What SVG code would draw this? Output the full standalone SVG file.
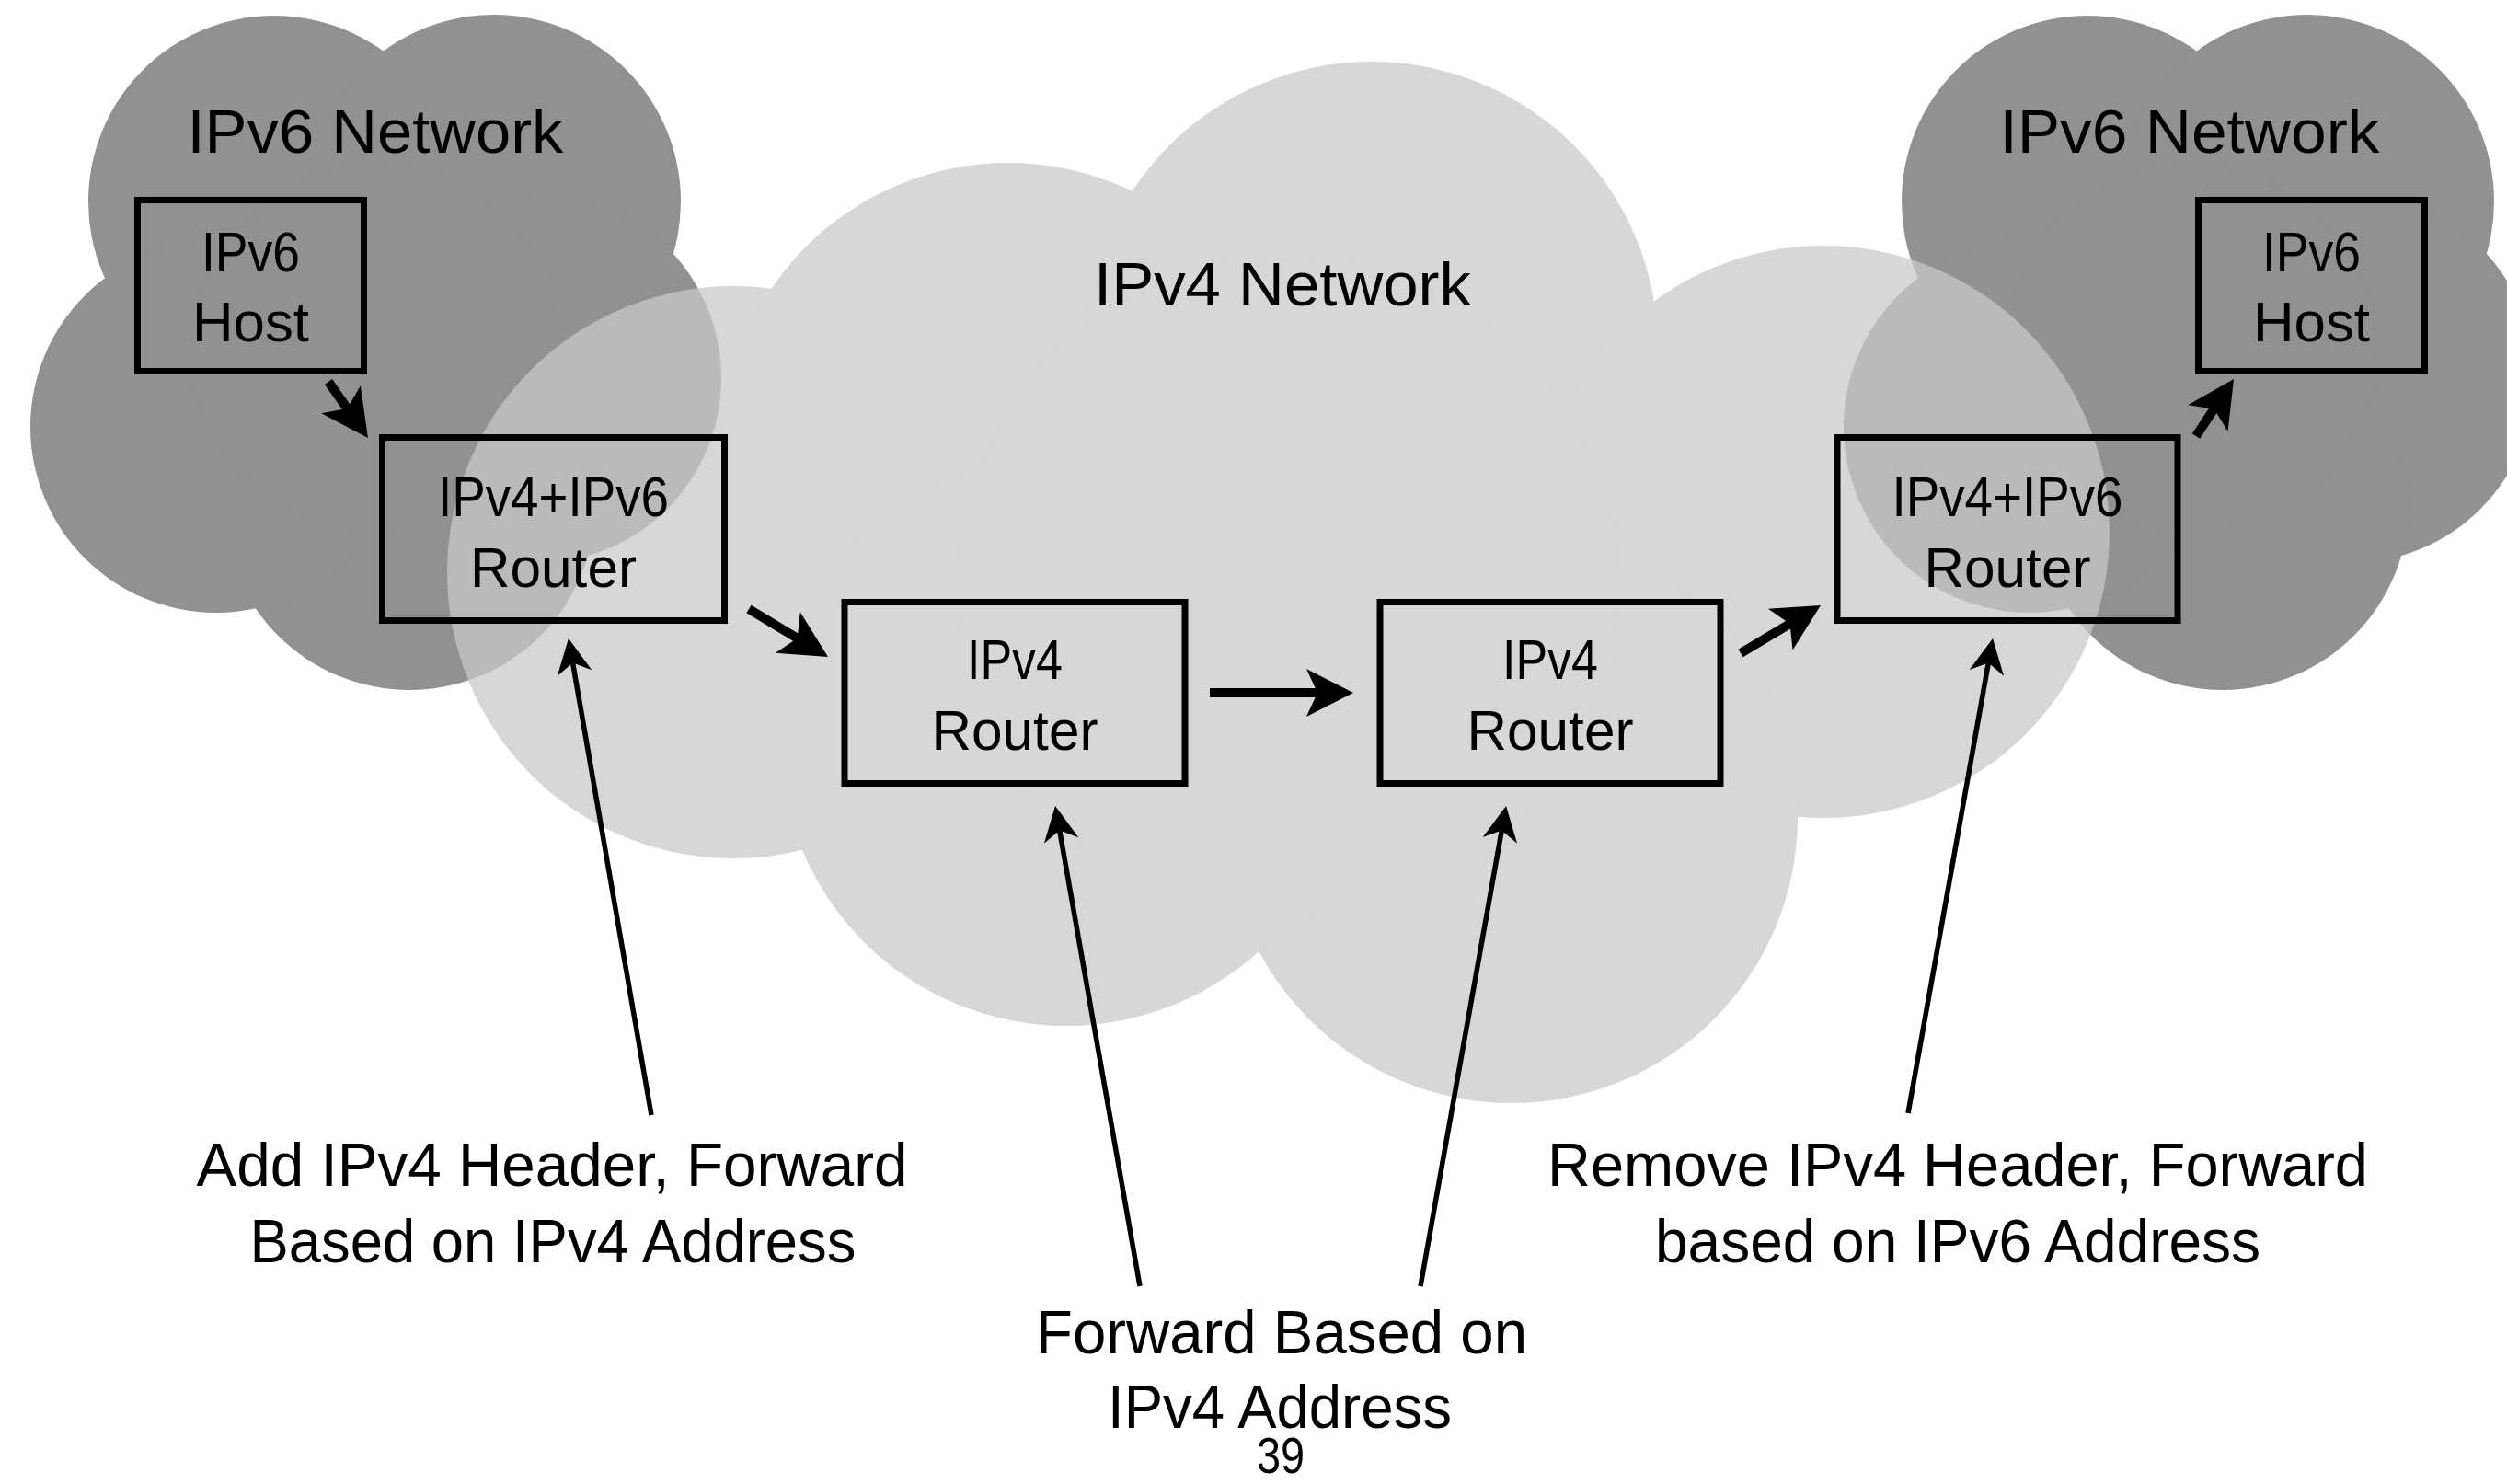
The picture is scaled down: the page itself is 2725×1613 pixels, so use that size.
<svg xmlns="http://www.w3.org/2000/svg" width="2725" height="1613" viewBox="0 0 2725 1613">
  <style>
    .lbl { font-family: "Liberation Sans", Arial, sans-serif; fill: #000; text-anchor: middle; }
    .net { font-size: 67px; }
    .box { font-size: 61px; }
    .note { font-size: 67px; }
    .page { font-size: 56px; }
    .node rect { fill: none; stroke: #000; stroke-width: 7; }
    .thick { fill: none; stroke: #000; stroke-width: 10; stroke-linecap: butt; marker-end: url(#headThick); }
    .thin { fill: none; stroke: #000; stroke-width: 5.5; stroke-linecap: butt; marker-end: url(#headThin); }
  </style>
  <defs>
    <!-- five-lobed cloud used for both IPv6 networks -->
    <g id="v6cloud">
      <circle cx="298" cy="219" r="202"/>
      <circle cx="537" cy="219" r="203"/>
      <circle cx="583" cy="411" r="201"/>
      <circle cx="445" cy="548" r="202"/>
      <circle cx="235" cy="464" r="202"/>
      <circle cx="410" cy="380" r="200"/>
    </g>
    <!-- concave arrowheads; origin sits where the shaft ends -->
    <marker id="headThick" markerUnits="userSpaceOnUse" orient="auto" refX="0" refY="0" markerWidth="80" markerHeight="80" overflow="visible">
      <path d="M39,0 L-12,-26 L0,0 L-12,26 Z" fill="#000"/>
    </marker>
    <marker id="headThin" markerUnits="userSpaceOnUse" orient="auto" refX="0" refY="0" markerWidth="60" markerHeight="60" overflow="visible">
      <path d="M27,0 L-11,-19 L0,0 L-11,19 Z" fill="#000"/>
    </marker>
  </defs>

  <rect width="2725" height="1613" fill="#fff"/>

  <!-- IPv6 networks -->
  <g id="ipv6-network-left">
    <use href="#v6cloud" fill="#919191"/>
    <text class="lbl net" x="408" y="166" textLength="409" lengthAdjust="spacingAndGlyphs">IPv6 Network</text>
  </g>
  <g id="ipv6-network-right">
    <use href="#v6cloud" fill="#919191" transform="translate(1971,0)"/>
    <text class="lbl net" x="2380" y="166" textLength="413" lengthAdjust="spacingAndGlyphs">IPv6 Network</text>
  </g>

  <!-- IPv4 network, translucent over the IPv6 clouds -->
  <g id="ipv4-network">
    <g fill="#c9c9c9" opacity="0.735">
      <circle cx="797" cy="622" r="311"/>
      <circle cx="1096" cy="488" r="311"/>
      <circle cx="1491" cy="378" r="311"/>
      <circle cx="1982" cy="578" r="311"/>
      <circle cx="1643" cy="888" r="311"/>
      <circle cx="1159" cy="804" r="311"/>
      <circle cx="1400" cy="640" r="360"/>
    </g>
    <text class="lbl net" x="1394" y="332" textLength="410" lengthAdjust="spacingAndGlyphs">IPv4 Network</text>
  </g>

  <!-- nodes -->
  <g id="ipv6-host-left" class="node">
    <rect x="149.5" y="217.5" width="246" height="186"/>
    <text class="lbl box" x="272.5" y="295" textLength="107" lengthAdjust="spacingAndGlyphs">IPv6</text>
    <text class="lbl box" x="272.5" y="371" textLength="127" lengthAdjust="spacingAndGlyphs">Host</text>
  </g>
  <g id="dual-router-left" class="node">
    <rect x="415.5" y="475.5" width="372" height="199"/>
    <text class="lbl box" x="601.5" y="561" textLength="251" lengthAdjust="spacingAndGlyphs">IPv4+IPv6</text>
    <text class="lbl box" x="601.5" y="638" textLength="181" lengthAdjust="spacingAndGlyphs">Router</text>
  </g>
  <g id="ipv4-router-1" class="node">
    <rect x="918" y="654.5" width="370" height="197"/>
    <text class="lbl box" x="1103" y="738" textLength="104" lengthAdjust="spacingAndGlyphs">IPv4</text>
    <text class="lbl box" x="1103" y="815" textLength="181" lengthAdjust="spacingAndGlyphs">Router</text>
  </g>
  <g id="ipv4-router-2" class="node">
    <rect x="1500" y="654.5" width="370" height="197"/>
    <text class="lbl box" x="1685" y="738" textLength="104" lengthAdjust="spacingAndGlyphs">IPv4</text>
    <text class="lbl box" x="1685" y="815" textLength="181" lengthAdjust="spacingAndGlyphs">Router</text>
  </g>
  <g id="dual-router-right" class="node">
    <rect x="1997" y="475.5" width="370" height="199"/>
    <text class="lbl box" x="2182" y="561" textLength="251" lengthAdjust="spacingAndGlyphs">IPv4+IPv6</text>
    <text class="lbl box" x="2182" y="638" textLength="181" lengthAdjust="spacingAndGlyphs">Router</text>
  </g>
  <g id="ipv6-host-right" class="node">
    <rect x="2389.5" y="217.5" width="246" height="186"/>
    <text class="lbl box" x="2512.5" y="295" textLength="107" lengthAdjust="spacingAndGlyphs">IPv6</text>
    <text class="lbl box" x="2512.5" y="371" textLength="127" lengthAdjust="spacingAndGlyphs">Host</text>
  </g>

  <!-- connectors -->
  <g id="connectors">
    <path class="thick" d="M357,415 L377.5,444.1"/>
    <path class="thick" d="M814,662 L866.6,693.8"/>
    <path class="thick" d="M1315,753 L1432,753"/>
    <path class="thick" d="M1892,710 L1945.5,678"/>
    <path class="thick" d="M2387,474 L2406.5,444.5"/>
    <path class="thin" d="M708,1212 L622.6,720.6"/>
    <path class="thin" d="M1239,1398 L1151.7,902.6"/>
    <path class="thin" d="M1544,1398 L1632.3,902.6"/>
    <path class="thin" d="M2074,1210 L2161.3,720.6"/>
  </g>

  <!-- annotations -->
  <g id="note-encapsulate">
    <text class="lbl note" x="600" y="1289" textLength="773" lengthAdjust="spacingAndGlyphs">Add IPv4 Header, Forward</text>
    <text class="lbl note" x="601" y="1372" textLength="659" lengthAdjust="spacingAndGlyphs">Based on IPv4 Address</text>
  </g>
  <g id="note-forward">
    <text class="lbl note" x="1393" y="1471" textLength="534" lengthAdjust="spacingAndGlyphs">Forward Based on</text>
    <text class="lbl note" x="1391" y="1552" textLength="374" lengthAdjust="spacingAndGlyphs">IPv4 Address</text>
  </g>
  <g id="note-decapsulate">
    <text class="lbl note" x="2128" y="1289" textLength="892" lengthAdjust="spacingAndGlyphs">Remove IPv4 Header, Forward</text>
    <text class="lbl note" x="2128" y="1372" textLength="658" lengthAdjust="spacingAndGlyphs">based on IPv6 Address</text>
  </g>
  <text id="page-number" class="lbl page" x="1392" y="1601" textLength="52" lengthAdjust="spacingAndGlyphs">39</text>
</svg>
